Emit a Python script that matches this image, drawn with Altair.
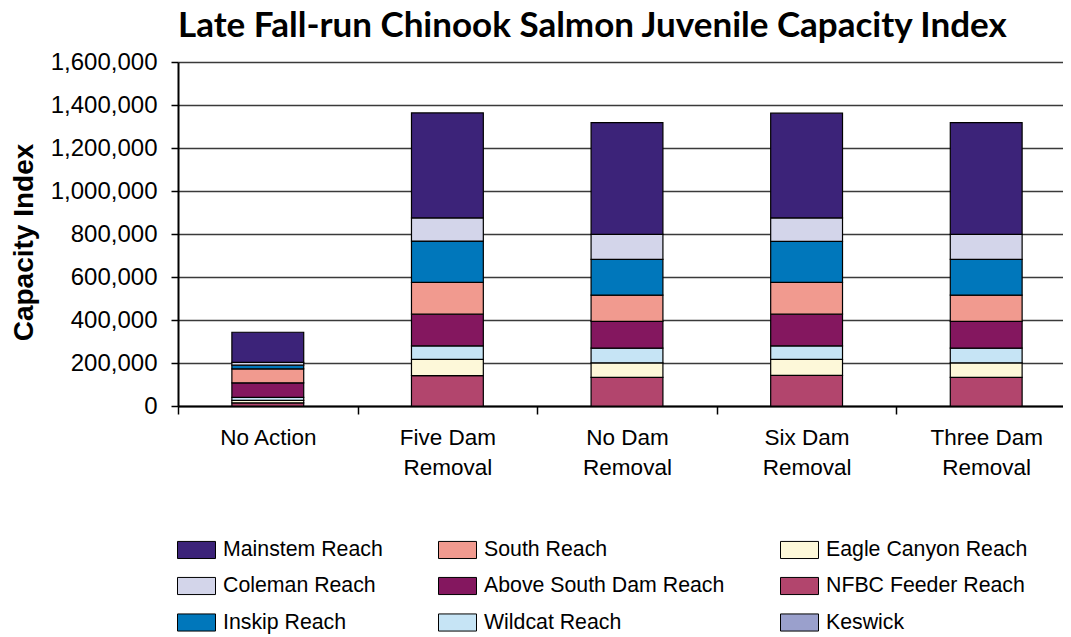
import altair as alt
import pandas as pd

# Scenarios (x categories)
scenarios = ["No Action", "Five Dam Removal", "No Dam Removal", "Six Dam Removal", "Three Dam Removal"]

# Series values per scenario
keswick     = [0, 0, 0, 0, 0]
nfbc        = [15000, 141000, 133000, 142000, 133000]
eagle       = [11000, 76000, 68000, 75000, 68000]
wildcat     = [14000, 63000, 68000, 63000, 68000]
above_south = [68000, 147000, 125000, 147000, 125000]
south       = [65000, 148000, 122000, 148000, 122000]
inskip      = [17000, 192000, 166000, 191000, 166000]
coleman     = [13000, 108000, 116000, 109000, 116000]
mainstem    = [140000, 488000, 520000, 487000, 520000]

# Stack order, bottom to top
stack_names = ["Keswick", "NFBC Feeder Reach", "Eagle Canyon Reach", "Wildcat Reach",
               "Above South Dam Reach", "South Reach", "Inskip Reach", "Coleman Reach",
               "Mainstem Reach"]
stack_values = [keswick, nfbc, eagle, wildcat, above_south, south, inskip, coleman, mainstem]

# Legend order (column by column, 3 columns) and colours
legend_order = ["Mainstem Reach", "Coleman Reach", "Inskip Reach",
                "South Reach", "Above South Dam Reach", "Wildcat Reach",
                "Eagle Canyon Reach", "NFBC Feeder Reach", "Keswick"]
legend_colors = ["#3C2379", "#D3D5EA", "#0077BB",
                 "#F19A8F", "#84175F", "#C6E4F5",
                 "#FDF8D9", "#B2456D", "#9AA0CC"]

y_ticks = [0, 200000, 400000, 600000, 800000, 1000000, 1200000, 1400000, 1600000]

rows = []
for k, (name, vals) in enumerate(zip(stack_names, stack_values)):
    for s, v in zip(scenarios, vals):
        rows.append({"Scenario": s, "Reach": name, "Value": v, "stack": k})
df = pd.DataFrame(rows)

label_expr = ("indexof(datum.label, ' Removal') > 0 ? "
              "[replace(datum.label, ' Removal', ''), 'Removal'] : datum.label")

chart = alt.Chart(df).mark_bar(
    stroke="black", strokeWidth=1.2, width=alt.RelativeBandSize(0.4)
).encode(
    x=alt.X("Scenario:N", sort=scenarios,
            scale=alt.Scale(range=[0, 898], paddingInner=0, paddingOuter=0),
            axis=alt.Axis(title=None, labelFont="Liberation Sans", labelFontSize=22.5,
                          labelColor="black", labelAngle=0, labelPadding=12,
                          labelLineHeight=30, labelExpr=label_expr,
                          tickBand="extent", tickSize=8, tickColor="black",
                          tickWidth=1.5, domainColor="black", domainWidth=2,
                          grid=False)),
    y=alt.Y("Value:Q", stack="zero",
            scale=alt.Scale(domain=[0, 1600000], nice=False),
            axis=alt.Axis(title="Capacity Index", titleFont="Liberation Sans",
                          titleFontSize=28, titleFontWeight="bold", titleColor="black",
                          titleX=-154, titleY=180, titleAlign="center",
                          titleBaseline="middle", titleAngle=270,
                          values=y_ticks, format=",.0f", labelFont="Liberation Sans",
                          labelFontSize=24, labelColor="black", labelPadding=14,
                          tickSize=7, tickColor="black", tickWidth=1.5,
                          domainColor="black", domainWidth=2,
                          gridColor="#3a3a3a", gridWidth=1.3)),
    color=alt.Color("Reach:N",
                    scale=alt.Scale(domain=legend_order, range=legend_colors),
                    legend=alt.Legend(title=None, orient="none", legendX=-1, legendY=468,
                                      columns=3,
                                      symbolType="M-1,-0.45L1,-0.45L1,0.45L-1,0.45Z",
                                      symbolSize=1444, symbolStrokeColor="black",
                                      symbolStrokeWidth=1, symbolOpacity=1,
                                      labelFont="Liberation Sans", labelFontSize=21.3,
                                      labelColor="black", labelOffset=7,
                                      columnPadding=53, rowPadding=5.5, padding=0,
                                      labelLimit=400)),
    order=alt.Order("stack:Q", sort="ascending"),
).properties(
    width=885,
    height=344,
    title=alt.TitleParams("Late Fall-run Chinook Salmon Juvenile Capacity Index",
                          anchor="start", font="Lato", fontSize=35, fontWeight="bold",
                          color="black", offset=-22, baseline="alphabetic",
                          frame="group"),
    autosize=alt.AutoSizeParams(type="none"),
    padding={"left": 170, "top": 54, "right": 0, "bottom": 229},
    background="white",
).configure_view(stroke=None)

chart.save("out.html", embed_options={"renderer": "svg", "actions": False})
